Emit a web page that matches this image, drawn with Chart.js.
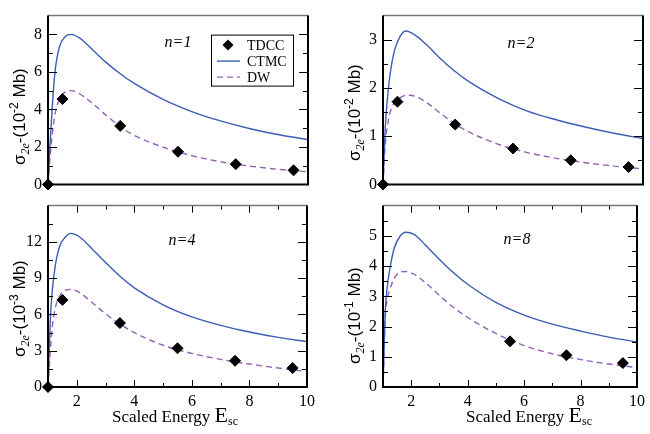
<!DOCTYPE html>
<html>
<head>
<meta charset="utf-8">
<script src="https://cdn.jsdelivr.net/npm/chart.js@4.4.0/dist/chart.umd.min.js"></script>
<style>
	body { margin: 0; background: #fff; }
	#wrap { position: relative; width: 650px; height: 434px; }
	canvas { position: absolute; }
</style>
</head>
<body>
<div id="wrap">
	<canvas id="c1" width="320" height="200" style="left:0;top:0"></canvas>
	<canvas id="c2" width="315" height="200" style="left:335px;top:0"></canvas>
	<canvas id="c3" width="320" height="244" style="left:0;top:190px"></canvas>
	<canvas id="c4" width="315" height="244" style="left:335px;top:190px"></canvas>
</div>
<script>
const curveX = [1, 1.08, 1.15, 1.25, 1.4, 1.6, 1.8, 2.1, 2.5, 3, 3.5, 4, 5, 6, 7, 8, 9, 10];
const tdccX = [1, 1.5, 3.5, 5.5, 7.5, 9.5];
const tdccX8 = [5.5, 7.5, 9.5];
const xTicks = [2, 4, 6, 8, 10];

// n=1  (10^-2 Mb)
const tdcc1 = [0, 4.55, 3.12, 1.74, 1.08, 0.75];
const ctmc1 = [0, 2.4, 4.2, 6.1, 7.35, 7.89, 8.0, 7.8, 7.24, 6.52, 5.9, 5.37, 4.52, 3.87, 3.37, 2.97, 2.65, 2.39];
const dw1 = [0, 1.6, 2.7, 3.8, 4.55, 4.93, 5.0, 4.82, 4.38, 3.7, 3.08, 2.6, 1.98, 1.52, 1.2, 0.97, 0.8, 0.67];
const yTicks1 = [0, 2, 4, 6, 8];

// n=2  (10^-2 Mb)
const tdcc2 = [0, 1.715, 1.24, 0.745, 0.5, 0.36];
const ctmc2 = [0, 1.2, 1.75, 2.3, 2.78, 3.08, 3.18, 3.1, 2.9, 2.6, 2.34, 2.12, 1.78, 1.52, 1.34, 1.19, 1.06, 0.95];
const dw2 = [0, 0.85, 1.2, 1.5, 1.7, 1.8, 1.85, 1.83, 1.7, 1.47, 1.25, 1.08, 0.83, 0.66, 0.54, 0.45, 0.38, 0.32];
const yTicks2 = [0, 1, 2, 3];

// n=4  (10^-3 Mb)
const tdcc4 = [0, 7.2, 5.29, 3.2, 2.17, 1.57];
const ctmc4 = [0, 5.5, 8.0, 10.0, 11.6, 12.4, 12.7, 12.4, 11.5, 10.3, 9.15, 8.2, 6.8, 5.8, 5.1, 4.55, 4.1, 3.75];
const dw4 = [0, 3.0, 5.0, 6.5, 7.5, 8.0, 8.07, 7.8, 7.05, 6.05, 5.2, 4.5, 3.45, 2.78, 2.28, 1.9, 1.57, 1.28];
const yTicks4 = [0, 3, 6, 9, 12];

// n=8  (10^-1 Mb)
const tdcc8 = [1.51, 1.05, 0.79];
const ctmc8 = [0, 2.5, 3.3, 3.95, 4.6, 4.98, 5.12, 5.05, 4.7, 4.22, 3.78, 3.4, 2.8, 2.38, 2.08, 1.85, 1.65, 1.49];
const dw8 = [0, 2.3, 2.9, 3.25, 3.6, 3.8, 3.82, 3.73, 3.45, 3.03, 2.63, 2.3, 1.77, 1.37, 1.1, 0.91, 0.76, 0.64];
const yTicks8 = [0, 1, 2, 3, 4, 5];

const BLUE = "#3d5db5";
const PURPLE = "#9562b8";
const SERIF = '"Liberation Serif", "DejaVu Serif", serif';
const SANS = '"Liberation Sans", Arial, sans-serif';

const pts = (xs, ys) => xs.map((x, i) => ({ x: x, y: ys[i] }));

// text made of pieces with their own font and baseline shift
const richText = (ctx, parts, x, y, rotate) => {
	ctx.save();
	ctx.translate(x, y);
	if (rotate) ctx.rotate(-Math.PI / 2);
	ctx.fillStyle = "#000";
	ctx.textBaseline = "alphabetic";
	let w = 0;
	parts.forEach((p) => {
		ctx.font = p.f;
		w += ctx.measureText(p.t).width;
	});
	let cx = -w / 2;
	parts.forEach((p) => {
		ctx.font = p.f;
		ctx.fillText(p.t, cx, p.dy || 0);
		cx += ctx.measureText(p.t).width;
	});
	ctx.restore();
};

const frame = {
	id: "frame",
	afterDraw(chart, args, o) {
		const { ctx, chartArea: a } = chart;
		const xs = chart.scales.x;
		const ys = chart.scales.y;
		ctx.save();

		// y ticks, inward on both sides
		ctx.strokeStyle = "#000";
		ctx.lineWidth = 1;
		const tickY = (v, len) => {
			const py = Math.round(ys.getPixelForValue(v)) + 0.5;
			ctx.beginPath();
			ctx.moveTo(a.left, py);
			ctx.lineTo(a.left + len, py);
			ctx.moveTo(a.right, py);
			ctx.lineTo(a.right - len, py);
			ctx.stroke();
		};
		const yStep = o.yTicks[1] - o.yTicks[0];
		o.yTicks.forEach((v) => tickY(v, 9));
		for (let v = o.yTicks[0] + yStep / 2; v < ys.max - 0.01; v += yStep) tickY(v, 5);

		// x ticks only on the lower panels
		if (o.xTitle) {
			const tickX = (v, len) => {
				const px = Math.round(xs.getPixelForValue(v)) + 0.5;
				ctx.beginPath();
				ctx.moveTo(px, a.bottom);
				ctx.lineTo(px, a.bottom - len);
				ctx.moveTo(px, a.top);
				ctx.lineTo(px, a.top + len);
				ctx.stroke();
			};
			xTicks.forEach((v) => tickX(v, 7));
			xTicks.forEach((v) => tickX(v - 1, 4));
		}

		// box
		ctx.strokeStyle = "#777";
		ctx.lineWidth = 1.5;
		ctx.beginPath();
		ctx.moveTo(a.left, a.top);
		ctx.lineTo(a.right, a.top);
		ctx.stroke();
		ctx.strokeStyle = "#000";
		ctx.lineWidth = 2;
		ctx.beginPath();
		ctx.moveTo(a.right, a.top);
		ctx.lineTo(a.right, a.bottom);
		ctx.lineTo(a.left, a.bottom);
		ctx.lineTo(a.left, a.top);
		ctx.stroke();

		// panel label
		richText(ctx, [
			{ t: "n", f: "italic 16px " + SERIF },
			{ t: "=" + o.n, f: "italic 16px " + SERIF },
		], a.left + o.nPos[0], a.top + o.nPos[1], false);

		// y title
		richText(ctx, [
			{ t: "σ", f: "17px " + SANS },
			{ t: "2e", f: "italic 12px " + SERIF, dy: 4 },
			{ t: "-(10", f: "17px " + SANS },
			{ t: o.pow, f: "12px " + SANS, dy: -7 },
			{ t: " Mb)", f: "17px " + SANS },
		], a.left - 23, a.top + o.yTitleY, true);

		// x title
		if (o.xTitle) {
			richText(ctx, [
				{ t: "Scaled Energy ", f: "17px " + SERIF },
				{ t: "E", f: "22px " + SERIF },
				{ t: "sc", f: "12px " + SERIF, dy: 3 },
			], a.left + o.xTitleX, a.bottom + 35, false);
		}

		// legend
		if (o.legend) {
			const lx = a.left + 163;
			const ly = a.top + 19;
			ctx.strokeStyle = "#000";
			ctx.lineWidth = 1;
			ctx.strokeRect(lx + 0.5, ly + 0.5, 82, 51);
			ctx.fillStyle = "#000";
			ctx.beginPath();
			ctx.moveTo(lx + 17, ly + 5);
			ctx.lineTo(lx + 22.5, ly + 10.5);
			ctx.lineTo(lx + 17, ly + 16);
			ctx.lineTo(lx + 11.5, ly + 10.5);
			ctx.closePath();
			ctx.fill();
			ctx.lineWidth = 1.4;
			ctx.strokeStyle = BLUE;
			ctx.beginPath();
			ctx.moveTo(lx + 6, ly + 26.5);
			ctx.lineTo(lx + 29, ly + 26.5);
			ctx.stroke();
			ctx.strokeStyle = PURPLE;
			ctx.setLineDash([6, 4]);
			ctx.beginPath();
			ctx.moveTo(lx + 6, ly + 42.5);
			ctx.lineTo(lx + 29, ly + 42.5);
			ctx.stroke();
			ctx.setLineDash([]);
			ctx.font = "14px " + SERIF;
			ctx.textBaseline = "alphabetic";
			ctx.fillText("TDCC", lx + 36, ly + 15);
			ctx.fillText("CTMC", lx + 36, ly + 31);
			ctx.fillText("DW", lx + 36, ly + 47);
		}
		ctx.restore();
	},
};

const panel = (id, p) => {
	const lower = !!p.xTitle;
	new Chart(document.getElementById(id), {
		type: "scatter",
		data: {
			datasets: [
				{
					label: "TDCC",
					data: pts(p.tx, p.tdcc),
					pointStyle: "rectRot",
					pointRadius: 5.5,
					backgroundColor: "#000",
					borderColor: "#000",
					borderWidth: 1,
					clip: false,
				},
				{
					label: "CTMC",
					data: pts(curveX, p.ctmc),
					showLine: true,
					pointRadius: 0,
					borderColor: BLUE,
					borderWidth: 1.4,
					cubicInterpolationMode: "monotone",
				},
				{
					label: "DW",
					data: pts(curveX, p.dw),
					showLine: true,
					pointRadius: 0,
					borderColor: PURPLE,
					borderWidth: 1.4,
					borderDash: [6, 4],
					cubicInterpolationMode: "monotone",
				},
			],
		},
		options: {
			responsive: false,
			animation: false,
			events: [],
			layout: { padding: { top: lower ? 6 : 4, right: p.padRight, left: 0, bottom: 0 } },
			scales: {
				x: {
					type: "linear",
					min: 1,
					max: 10,
					grid: { display: false, drawTicks: false },
					border: { display: false },
					afterBuildTicks: (s) => { s.ticks = xTicks.map((v) => ({ value: v })); },
					afterFit: (s) => { s.height = lower ? 47 : 4; },
					ticks: {
						display: lower,
						padding: 5,
						maxRotation: 0,
						color: "#000",
						font: { family: SERIF, size: 16 },
					},
				},
				y: {
					min: 0,
					max: p.yMax,
					grid: { display: false, drawTicks: false },
					border: { display: false },
					afterBuildTicks: (s) => { s.ticks = p.yTicks.map((v) => ({ value: v })); },
					afterFit: (s) => { s.width = 48; },
					ticks: {
						padding: 6,
						color: "#000",
						font: { family: SERIF, size: 16 },
					},
				},
			},
			plugins: {
				legend: { display: false },
				tooltip: { enabled: false },
				frame: {
					yTicks: p.yTicks,
					n: p.n,
					nPos: p.nPos,
					pow: p.pow,
					yTitleY: p.yTitleY,
					xTitle: p.xTitle,
					xTitleX: p.xTitleX,
					legend: p.legend,
				},
			},
		},
		plugins: [frame],
	});
};

panel("c1", { tx: tdccX, tdcc: tdcc1, ctmc: ctmc1, dw: dw1, yTicks: yTicks1, yMax: 9, n: "1", nPos: [130, 31], pow: "-2", yTitleY: 101, legend: true, padRight: 12 });
panel("c2", { tx: tdccX, tdcc: tdcc2, ctmc: ctmc2, dw: dw2, yTicks: yTicks2, yMax: 3.5, n: "2", nPos: [138, 32], pow: "-2", yTitleY: 97, padRight: 7 });
panel("c3", { tx: tdccX, tdcc: tdcc4, ctmc: ctmc4, dw: dw4, yTicks: yTicks4, yMax: 15, n: "4", nPos: [134, 39], pow: "-3", yTitleY: 103, xTitle: true, xTitleX: 127, padRight: 12 });
panel("c4", { tx: tdccX8, tdcc: tdcc8, ctmc: ctmc8, dw: dw8, yTicks: yTicks8, yMax: 6, n: "8", nPos: [134, 38], pow: "-1", yTitleY: 110, xTitle: true, xTitleX: 146, padRight: 7 });
</script>
</body>
</html>
